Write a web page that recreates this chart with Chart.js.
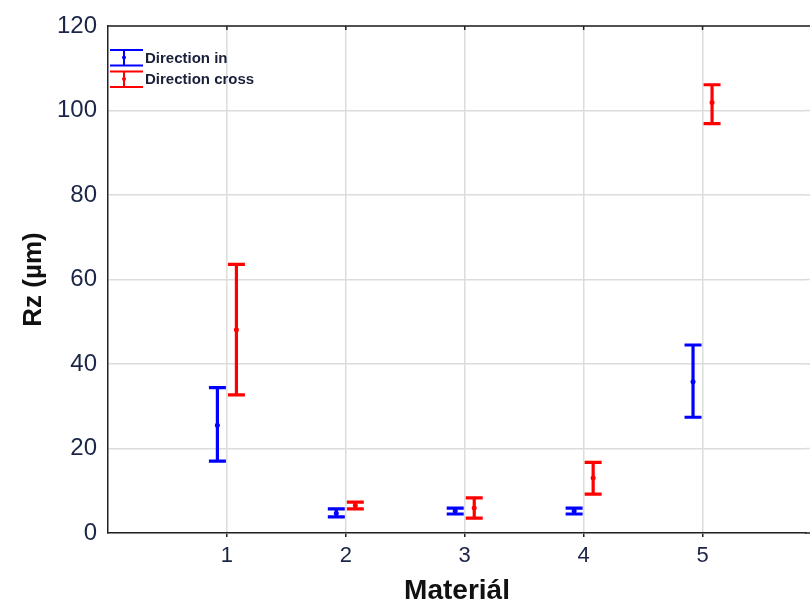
<!DOCTYPE html>
<html>
<head>
<meta charset="utf-8">
<script src="https://cdn.jsdelivr.net/npm/chart.js@4.4.0/dist/chart.umd.min.js"></script>
<style>
  html, body { margin: 0; padding: 0; background: #fff; }
  #wrap { width: 810px; height: 603px; }
</style>
</head>
<body>
<div id="wrap"><canvas id="rz-chart" width="810" height="603"></canvas></div>
<script>
// ------------------------------------------------------
// @Data
// ------------------------------------------------------
const materials  = [1, 2, 3, 4, 5];
const yTicks     = [0, 20, 40, 60, 80, 100, 120];

const inMean     = [25.5, 4.7, 5.2, 5.2, 35.8];
const inLow      = [17.0, 3.8, 4.5, 4.5, 27.4];
const inHigh     = [34.4, 5.7, 5.9, 5.9, 44.5];

const crossMean  = [48.1, 6.5, 5.9, 13.0, 101.9];
const crossLow   = [32.7, 5.7, 3.5, 9.2, 96.9];
const crossHigh  = [63.6, 7.3, 8.3, 16.7, 106.1];

const seriesNames = ['Direction in', 'Direction cross'];

// ------------------------------------------------------
// @Styles
// ------------------------------------------------------
const BLUE = '#0000ff';
const RED = '#ff0000';
const TICK_COLOR = '#1b2547';
const GRID = '#dcdcdc';
const SHIFT = 0.08;

const toPoints = (means, lows, highs, dx) =>
  materials.map((m, i) => ({ x: m + dx, y: means[i], lo: lows[i], hi: highs[i] }));

// error bars drawn through the chart scales
const errorBars = {
  id: 'errorBars',
  beforeDatasetsDraw(chart) {
    // stretch grid and bottom axis to the canvas edge
    const { ctx, chartArea, scales: { y } } = chart;
    ctx.save();
    ctx.lineWidth = 1.5;
    ctx.strokeStyle = GRID;
    ctx.beginPath();
    yTicks.slice(1).forEach((v) => {
      const py = y.getPixelForValue(v);
      ctx.moveTo(chartArea.right, py);
      ctx.lineTo(810, py);
    });
    ctx.stroke();
    ctx.strokeStyle = '#222';
    ctx.beginPath();
    ctx.moveTo(chartArea.right - 1, chartArea.bottom);
    ctx.lineTo(810, chartArea.bottom);
    ctx.stroke();
    ctx.restore();
  },
  afterDatasetsDraw(chart) {
    const { ctx, scales: { x, y } } = chart;
    chart.data.datasets.forEach((ds) => {
      ctx.save();
      ctx.strokeStyle = ds.borderColor;
      ctx.lineWidth = 3.2;
      ctx.lineCap = 'butt';
      ds.data.forEach((p) => {
        const px = x.getPixelForValue(p.x);
        const top = y.getPixelForValue(p.hi);
        const bot = y.getPixelForValue(p.lo);
        ctx.beginPath();
        ctx.moveTo(px, top);
        ctx.lineTo(px, bot);
        ctx.moveTo(px - 8.5, top);
        ctx.lineTo(px + 8.5, top);
        ctx.moveTo(px - 8.5, bot);
        ctx.lineTo(px + 8.5, bot);
        ctx.stroke();
      });
      ctx.restore();
    });
  },
  afterDraw(chart) {
    const { ctx, chartArea, scales: { x } } = chart;
    ctx.save();
    // top frame with inner tick marks
    ctx.strokeStyle = '#222';
    ctx.lineWidth = 1.5;
    ctx.beginPath();
    ctx.moveTo(chartArea.left, chartArea.top);
    ctx.lineTo(810, chartArea.top);
    materials.forEach((m) => {
      const px = x.getPixelForValue(m);
      ctx.moveTo(px, chartArea.top);
      ctx.lineTo(px, chartArea.top + 4);
    });
    ctx.stroke();

    // legend
    const colors = [BLUE, RED];
    const rows = [57.5, 79];
    colors.forEach((c, i) => {
      const cy = rows[i];
      ctx.strokeStyle = c;
      ctx.fillStyle = c;
      ctx.lineWidth = 2;
      ctx.beginPath();
      ctx.moveTo(110, cy - 7.5);
      ctx.lineTo(143, cy - 7.5);
      ctx.moveTo(110, cy + 8);
      ctx.lineTo(143, cy + 8);
      ctx.moveTo(124, cy - 7.5);
      ctx.lineTo(124, cy + 8);
      ctx.stroke();
      ctx.beginPath();
      ctx.arc(124, cy, 2, 0, Math.PI * 2);
      ctx.fill();
      ctx.fillStyle = '#1a1f3a';
      ctx.font = 'bold 15px "Liberation Sans", Arial, sans-serif';
      ctx.textBaseline = 'middle';
      ctx.textAlign = 'left';
      ctx.fillText(seriesNames[i], 145, cy + 1);
    });
    ctx.restore();
  },
};

const ctx = document.getElementById('rz-chart').getContext('2d');

new Chart(ctx, {
  type: 'scatter',
  data: {
    datasets: [{
      label           : seriesNames[0],
      data            : toPoints(inMean, inLow, inHigh, -SHIFT),
      borderColor     : BLUE,
      backgroundColor : BLUE,
      pointRadius     : 2.5,
      pointBorderWidth: 0,
    }, {
      label           : seriesNames[1],
      data            : toPoints(crossMean, crossLow, crossHigh, SHIFT),
      borderColor     : RED,
      backgroundColor : RED,
      pointRadius     : 2.5,
      pointBorderWidth: 0,
    }],
  },
  options: {
    responsive: false,
    animation: false,
    layout: { padding: { top: 26, right: 0, left: 0, bottom: 0 } },
    plugins: {
      legend: { display: false },
      tooltip: { enabled: false },
    },
    scales: {
      x: {
        type: 'linear',
        min: 0,
        max: 5.87,
        afterBuildTicks: (s) => { s.ticks = materials.map((v) => ({ value: v })); },
        afterFit: (s) => { s.height = 70; },
        grid: { color: GRID, lineWidth: 1.5, tickLength: 4, tickColor: '#222' },
        border: { color: '#222', width: 1.5 },
        ticks: {
          color: TICK_COLOR,
          padding: 6,
          font: { family: '"Liberation Sans", Arial, sans-serif', size: 22 },
        },
        title: {
          display: true,
          text: 'Materiál',
          color: '#111',
          padding: { top: 0, bottom: -5 },
          font: { family: '"Liberation Sans", Arial, sans-serif', size: 28, weight: 'bold' },
        },
      },
      y: {
        min: 0,
        max: 120,
        afterBuildTicks: (s) => { s.ticks = yTicks.map((v) => ({ value: v })); },
        afterFit: (s) => { s.width = 108; },
        grid: { color: GRID, lineWidth: 1.5, drawTicks: false },
        border: { color: '#222', width: 1.5 },
        ticks: {
          color: TICK_COLOR,
          padding: 11,
          font: { family: '"Liberation Sans", Arial, sans-serif', size: 24 },
        },
        title: {
          display: true,
          text: 'Rz (µm)',
          color: '#111',
          padding: { top: 18, bottom: 0 },
          font: { family: '"Liberation Sans", Arial, sans-serif', size: 26, weight: 'bold' },
        },
      },
    },
  },
  plugins: [errorBars],
});
</script>
</body>
</html>
